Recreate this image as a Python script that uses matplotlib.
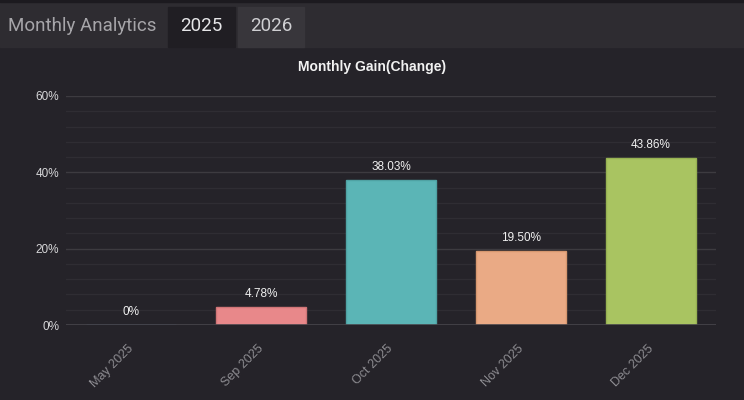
import matplotlib.pyplot as plt
from matplotlib.patches import Rectangle
from matplotlib.ticker import MultipleLocator, FuncFormatter
from matplotlib.transforms import ScaledTranslation

# Datos del grafico
months = ["May 2025", "Sep 2025", "Oct 2025", "Nov 2025", "Dec 2025"]
gains = [0, 4.78, 38.03, 19.50, 43.86]
value_labels = ["0%", "4.78%", "38.03%", "19.50%", "43.86%"]
bar_colors = ["#6aa0d8", "#e8888a", "#5bb5b6", "#eaaa85", "#a9c461"]
edge_colors = ["#5a8fc6", "#d07577", "#4fa2a3", "#d6976f", "#97b252"]
tabs = ["2025", "2026"]

bg = "#252329"

fig = plt.figure(figsize=(7.44, 4.0), dpi=100)
fig.patch.set_facecolor(bg)
plt.rcParams['font.family'] = ['Liberation Sans', 'DejaVu Sans']

# Barra superior con pestañas
W, H = 744, 400
def box(x, y, w, h, color):
    fig.patches.append(Rectangle((x / W, 1 - (y + h) / H), w / W, h / H,
                                 transform=fig.transFigure, color=color, zorder=0))

box(0, 0, 744, 47, "#2e2c31")
box(0, 0, 744, 1.5, "#1c1a1f")
box(168, 7, 67, 40, "#201e23")
box(238, 7, 66, 40, "#38363b")
fig.text(8 / W, 1 - 26 / H, "Monthly Analytics", color="#a6a5a9", fontsize=13.5,
         family="Roboto", va="center", ha="left")
fig.text(201 / W, 1 - 26 / H, tabs[0], color="#e6e6e8", fontsize=13.5,
         family="Roboto", va="center", ha="center")
fig.text(271 / W, 1 - 26 / H, tabs[1], color="#cfcfd2", fontsize=13.5,
         family="Roboto", va="center", ha="center")

ax = fig.add_axes([66 / W, 75 / H, 650 / W, 229 / H])
ax.set_facecolor(bg)

x = range(len(months))
ax.bar(x, gains, width=0.685, color=bar_colors, edgecolor=edge_colors,
       linewidth=1, zorder=3)
for i, (v, lab) in enumerate(zip(gains, value_labels)):
    ax.annotate(lab, (i, v), xytext=(0, 5), textcoords="offset points",
                ha="center", va="bottom", color="#f0f0f0", fontsize=8.5)

ax.set_xlim(-0.5, len(months) - 0.5)
ax.set_ylim(0, 60)
ax.yaxis.set_major_locator(MultipleLocator(20))
ax.yaxis.set_minor_locator(MultipleLocator(4))
ax.yaxis.set_major_formatter(FuncFormatter(lambda v, p: f"{v:.0f}%"))
ax.grid(which="major", axis="y", color="#3d3b40", linewidth=1, zorder=0)
ax.grid(which="minor", axis="y", color="#2f2d33", linewidth=1, zorder=0)
ax.set_axisbelow(True)
for s in ax.spines.values():
    s.set_visible(False)
ax.axhline(0, color="#46444a", linewidth=1.2, zorder=4)

ax.tick_params(axis="y", which="both", length=0, pad=5, colors="#d6d6d8",
               labelsize=8.5)
ax.tick_params(axis="x", length=0, pad=13, colors="#8c8b90", labelsize=9)
ax.set_xticks(list(x))
ax.set_xticklabels(months, rotation=45, ha="right", rotation_mode="anchor")
shift = ScaledTranslation(-4 / 100, 0, fig.dpi_scale_trans)
for t in ax.get_xticklabels():
    t.set_transform(t.get_transform() + shift)

fig.text(372 / W, 1 - 67 / H, "Monthly Gain(Change)", color="#f2f2f2",
         fontsize=10, fontweight="bold", ha="center", va="center")

fig.savefig("out.png", dpi=100, facecolor=bg)
